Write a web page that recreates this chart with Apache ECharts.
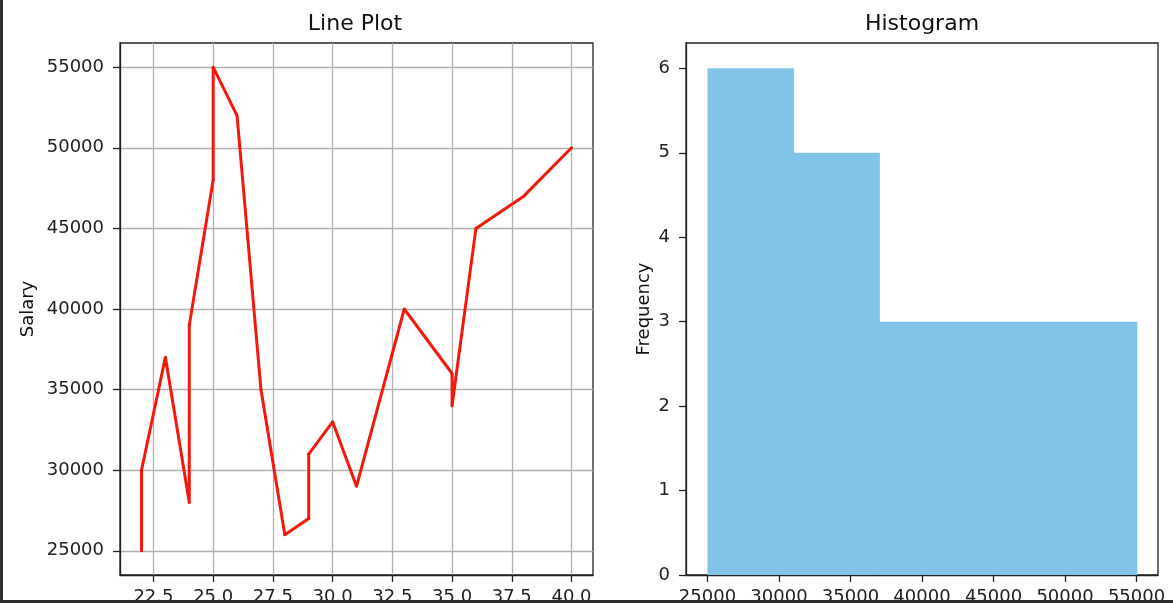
<!DOCTYPE html>
<html>
<head>
<meta charset="utf-8">
<script src="https://cdn.jsdelivr.net/npm/echarts@6/dist/echarts.min.js"></script>
<style>
html,body{margin:0;padding:0;background:#fff;}
#chart{width:1173px;height:603px;}
</style>
</head>
<body>
<div id="chart"></div>
<script>
// ---- data ----
const ages     = [22, 22, 23, 24, 24, 25, 25, 26, 27, 28, 29, 29, 30, 31, 33, 35, 35, 36, 38, 40];
const salaries = [25000, 30000, 37000, 28000, 39000, 48000, 55000, 52000, 35000, 26000, 27000, 31000, 33000, 29000, 40000, 36000, 34000, 45000, 47000, 50000];
const lineXTicks = [22.5, 25, 27.5, 30, 32.5, 35, 37.5, 40];
const lineYTicks = [25000, 30000, 35000, 40000, 45000, 50000, 55000];
const binEdges   = [25000, 31000, 37000, 43000, 49000, 55000];
const binCounts  = [6, 5, 3, 3, 3];
const histXTicks = [25000, 30000, 35000, 40000, 45000, 50000, 55000];
const histYTicks = [0, 1, 2, 3, 4, 5, 6];

const lineData = ages.map((a, i) => [a, salaries[i]]);
const histData = binCounts.map((c, i) => [binEdges[i], binEdges[i + 1], c]);

const FONT = 'DejaVu Sans';
const labelStyle = { color: '#222', fontFamily: FONT, fontSize: 18 };
const tickStyle = { lineStyle: { color: '#222', width: 1.3 } };

const chart = echarts.init(document.getElementById('chart'), null, { renderer: 'canvas' });
chart.setOption({
  animation: false,
  backgroundColor: '#fff',
  title: [
    { text: 'Line Plot', left: 350, top: 8, textAlign: 'center',
      textStyle: { fontFamily: FONT, fontSize: 22, fontWeight: 'normal', color: '#111' } },
    { text: 'Histogram', left: 917, top: 8, textAlign: 'center',
      textStyle: { fontFamily: FONT, fontSize: 22, fontWeight: 'normal', color: '#111' } }
  ],
  grid: [
    { left: 120, top: 43, width: 473, height: 532, outerBoundsMode: 'none', containLabel: false,
      show: true, borderColor: '#222', borderWidth: 1.3, backgroundColor: '#fff' },
    { left: 686, top: 43, width: 472, height: 532, outerBoundsMode: 'none', containLabel: false,
      show: true, borderColor: '#222', borderWidth: 1.3, backgroundColor: '#fff' }
  ],
  xAxis: [
    { type: 'value', gridIndex: 0, min: 21.1, max: 40.9,
      axisLine: { show: true, onZero: false, lineStyle: { color: '#222', width: 1.3 } },
      axisTick: Object.assign({ show: true, inside: false, length: 7, customValues: lineXTicks }, tickStyle),
      axisLabel: Object.assign({ margin: 13, customValues: lineXTicks, formatter: v => Number(v).toFixed(1) }, labelStyle),
      splitLine: { show: true, lineStyle: { color: '#b0b0b0', width: 1.3 } } },
    { type: 'value', gridIndex: 1, min: 23500, max: 56500,
      axisLine: { show: true, onZero: false, lineStyle: { color: '#222', width: 1.3 } },
      axisTick: Object.assign({ show: true, inside: false, length: 7, customValues: histXTicks }, tickStyle),
      axisLabel: Object.assign({ margin: 13, customValues: histXTicks, formatter: v => String(v) }, labelStyle),
      splitLine: { show: false } }
  ],
  yAxis: [
    { type: 'value', gridIndex: 0, min: 23500, max: 56500,
      name: 'Salary', nameLocation: 'middle', nameGap: 83, nameRotate: 90,
      nameTextStyle: { fontFamily: FONT, fontSize: 18, color: '#111' },
      axisLine: { show: true, onZero: false, lineStyle: { color: '#222', width: 1.3 } },
      axisTick: Object.assign({ show: true, inside: false, length: 7, customValues: lineYTicks }, tickStyle),
      axisLabel: Object.assign({ margin: 16, customValues: lineYTicks, formatter: v => String(v) }, labelStyle),
      splitLine: { show: true, lineStyle: { color: '#b0b0b0', width: 1.3 } } },
    { type: 'value', gridIndex: 1, min: 0, max: 6.3,
      name: 'Frequency', nameLocation: 'middle', nameGap: 33, nameRotate: 90,
      nameTextStyle: { fontFamily: FONT, fontSize: 18, color: '#111' },
      axisLine: { show: true, onZero: false, lineStyle: { color: '#222', width: 1.3 } },
      axisTick: Object.assign({ show: true, inside: false, length: 7, customValues: histYTicks }, tickStyle),
      axisLabel: Object.assign({ margin: 16, customValues: histYTicks, formatter: v => String(v) }, labelStyle),
      splitLine: { show: false } }
  ],
  series: [
    { type: 'line', xAxisIndex: 0, yAxisIndex: 0, data: lineData,
      showSymbol: true, symbol: 'circle', symbolSize: 3,
      itemStyle: { color: '#e8160c' },
      lineStyle: { color: '#f2190c', width: 3 } },
    { type: 'custom', xAxisIndex: 1, yAxisIndex: 1, data: histData,
      encode: { x: [0, 1], y: 2 },
      renderItem: function (params, api) {
        const p0 = api.coord([api.value(0), api.value(2)]);
        const p1 = api.coord([api.value(1), 0]);
        return { type: 'rect',
          shape: { x: p0[0], y: p0[1], width: p1[0] - p0[0] + 0.8, height: p1[1] - p0[1] },
          style: { fill: '#82c4e8' } };
      } }
  ],
  graphic: [
    { type: 'rect', left: 0, top: 0, shape: { width: 3, height: 603 }, style: { fill: '#2e2e2e' }, z: 100 },
    { type: 'rect', left: 0, top: 600, shape: { width: 1173, height: 3 }, style: { fill: '#2e2e2e' }, z: 100 }
  ]
});
</script>
</body>
</html>
